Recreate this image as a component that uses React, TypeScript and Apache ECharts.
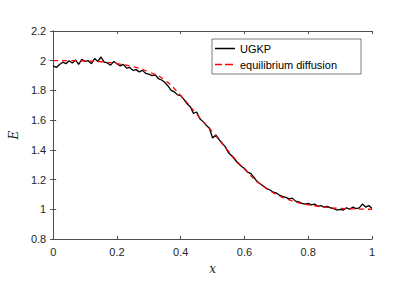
import React, { useEffect, useRef } from "react";
import * as echarts from "echarts";

const ugkpX: number[] = [
  0.0, 0.01, 0.02, 0.03, 0.04, 0.05, 0.06, 0.07, 0.08, 0.09,
  0.1, 0.11, 0.12, 0.13, 0.14, 0.15, 0.16, 0.17, 0.18, 0.19,
  0.2, 0.21, 0.22, 0.23, 0.24, 0.25, 0.26, 0.27, 0.28, 0.29,
  0.3, 0.31, 0.32, 0.33, 0.34, 0.35, 0.36, 0.37, 0.38, 0.39,
  0.4, 0.41, 0.42, 0.43, 0.44, 0.45, 0.46, 0.47, 0.48, 0.49,
  0.5, 0.51, 0.52, 0.53, 0.54, 0.55, 0.56, 0.57, 0.58, 0.59,
  0.6, 0.61, 0.62, 0.63, 0.64, 0.65, 0.66, 0.67, 0.68, 0.69,
  0.7, 0.71, 0.72, 0.73, 0.74, 0.75, 0.76, 0.77, 0.78, 0.79,
  0.8, 0.81, 0.82, 0.83, 0.84, 0.85, 0.86, 0.87, 0.88, 0.89,
  0.9, 0.91, 0.92, 0.93, 0.94, 0.95, 0.96, 0.97, 0.98, 0.99, 1.0,
];
const ugkpE: number[] = [
  1.965, 1.955, 1.975, 1.99, 1.98, 2.0, 1.985, 2.005, 1.975, 2.01,
  1.995, 2.0, 1.98, 2.015, 1.995, 2.025, 1.99, 1.985, 1.97, 1.995,
  1.98, 1.965, 1.975, 1.95, 1.955, 1.935, 1.94, 1.925, 1.935, 1.915,
  1.91, 1.9, 1.905, 1.88, 1.87, 1.855, 1.83, 1.8, 1.79, 1.77,
  1.765, 1.74, 1.71, 1.69, 1.645, 1.655, 1.61, 1.59, 1.565, 1.545,
  1.48, 1.5, 1.47, 1.445, 1.42, 1.38, 1.36, 1.335, 1.31, 1.29,
  1.275, 1.25, 1.24, 1.215, 1.185, 1.17, 1.155, 1.14, 1.13, 1.115,
  1.11, 1.095, 1.085, 1.08, 1.07, 1.075, 1.055, 1.05, 1.04, 1.035,
  1.04, 1.03, 1.035, 1.02, 1.025, 1.015, 1.02, 1.01, 1.005, 0.995,
  1.0, 0.995, 1.01, 1.0, 1.015, 1.005, 1.01, 1.035, 1.015, 1.025, 1.005,
];

const diffX: number[] = [
  0.0, 0.05, 0.1, 0.15, 0.2, 0.25, 0.3, 0.35, 0.4, 0.45, 0.5,
  0.55, 0.6, 0.65, 0.7, 0.75, 0.8, 0.85, 0.9, 0.95, 1.0,
];
const diffE: number[] = [
  2.0, 2.0, 1.998, 1.993, 1.98, 1.96, 1.925, 1.87, 1.765, 1.64, 1.52,
  1.39, 1.27, 1.17, 1.1, 1.057, 1.03, 1.015, 1.006, 1.002, 1.0,
];

const xTicks: number[] = [0, 0.2, 0.4, 0.6, 0.8, 1];
const yTicks: number[] = [0.8, 1, 1.2, 1.4, 1.6, 1.8, 2, 2.2];

const AXIS = "#4d4d4d";
const TEXT = "#262626";
const FONT = "'Liberation Sans', Arial, Helvetica, sans-serif";
const SERIF = "'DejaVu Serif', 'Liberation Serif', serif";

export default function App() {
  const ref = useRef<HTMLDivElement>(null);
  useEffect(() => {
    document.body.style.margin = "0";
    const chart = echarts.init(ref.current!, undefined, { renderer: "svg" });
    const fmt = (v: number) => String(Math.round(v * 10) / 10);
    const axisBits = (ticks: number[], labels: boolean) => ({
      axisLine: { show: true, lineStyle: { color: AXIS, width: 1 } },
      axisTick: {
        show: true,
        inside: true,
        length: 3,
        customValues: ticks,
        lineStyle: { color: AXIS },
      },
      axisLabel: labels
        ? { fontFamily: FONT, fontSize: 11, color: TEXT, margin: 7, formatter: fmt, customValues: ticks }
        : { show: false },
      splitLine: { show: false },
    });
    chart.setOption({
      animation: false,
      backgroundColor: "#ffffff",
      grid: { left: 53, right: 27, top: 31, bottom: 60 },
      legend: {
        orient: "vertical",
        left: 212,
        top: 39,
        padding: [4, 24, 4, 3],
        itemGap: 5,
        itemWidth: 20,
        itemHeight: 10,
        backgroundColor: "#ffffff",
        borderColor: TEXT,
        borderWidth: 0.6,
        borderRadius: 0,
        textStyle: { fontFamily: FONT, fontSize: 11, color: "#000" },
        data: [
          { name: "UGKP", icon: "path://M0,4.3h20v1.4h-20z M0,0h0.01v10h-0.01z" },
          {
            name: "equilibrium diffusion",
            icon: "path://M0,4.3h7v1.4h-7z M10,4.3h8v1.4h-8z M0,0h0.01v10h-0.01z M19.99,0h0.01v10h-0.01z",
          },
        ],
      },
      xAxis: [
        {
          type: "value",
          min: 0,
          max: 1,
          interval: 0.2,
          position: "bottom",
          name: "x",
          nameLocation: "middle",
          nameGap: 24,
          nameTextStyle: { fontFamily: SERIF, fontStyle: "italic", fontSize: 12, color: TEXT },
          ...axisBits(xTicks, true),
        },
        {
          type: "value",
          min: 0,
          max: 1,
          interval: 0.2,
          position: "top",
          ...axisBits(xTicks, false),
        },
      ],
      yAxis: [
        {
          type: "value",
          min: 0.8,
          max: 2.2,
          interval: 0.2,
          position: "left",
          name: "E",
          nameLocation: "middle",
          nameGap: 25,
          nameRotate: 90,
          nameTextStyle: { fontFamily: SERIF, fontStyle: "italic", fontSize: 12, color: TEXT },
          ...axisBits(yTicks, true),
        },
        {
          type: "value",
          min: 0.8,
          max: 2.2,
          interval: 0.2,
          position: "right",
          ...axisBits(yTicks, false),
        },
      ],
      series: [
        {
          name: "UGKP",
          type: "line",
          showSymbol: false,
          symbol: "none",
          lineStyle: { color: "#000000", width: 1.3 },
          itemStyle: { color: "#000000" },
          data: ugkpX.map((x, i) => [x, ugkpE[i]]),
          z: 2,
        },
        {
          name: "equilibrium diffusion",
          type: "line",
          showSymbol: false,
          symbol: "none",
          smooth: true,
          lineStyle: { color: "#ff0000", width: 1.3, type: [5, 4] },
          itemStyle: { color: "#ff0000" },
          data: diffX.map((x, i) => [x, diffE[i]]),
          z: 3,
        },
      ],
    });
    return () => chart.dispose();
  }, []);
  return <div ref={ref} style={{ width: 399, height: 299 }} />;
}
